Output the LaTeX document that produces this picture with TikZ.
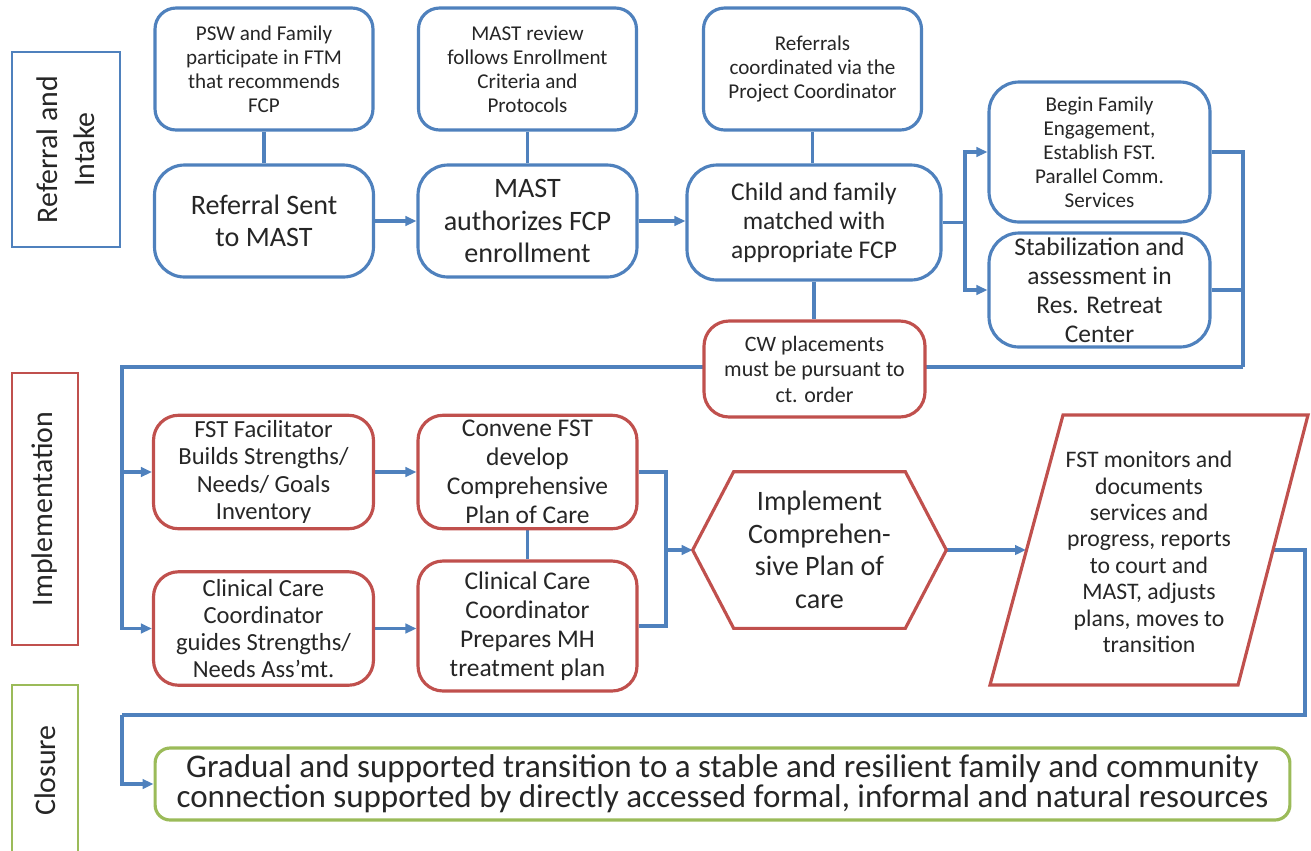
\documentclass[tikz,border=0pt]{standalone}
\usepackage{fontspec}
\setmainfont{Carlito}
\usetikzlibrary{arrows.meta}
\usetikzlibrary{positioning}
\usetikzlibrary{backgrounds}

\definecolor{boxblue}{RGB}{79,129,189}
\definecolor{boxred}{RGB}{192,80,77}
\definecolor{boxgreen}{RGB}{155,187,89}
\definecolor{txt}{RGB}{38,38,38}

\begin{document}
\begin{tikzpicture}[x=0.02cm, y=-0.02cm,
  box/.style={draw, line width=1.8pt, fill=white, align=center, text=txt, inner sep=0pt},
  bluebox/.style={box, draw=boxblue},
  redbox/.style={box, draw=boxred},
  notebox/.style={bluebox, rounded corners=0.42cm, minimum width=4.36cm, minimum height=2.44cm,
    font=\fontsize{12}{13.6}\selectfont},
  bigbox/.style={bluebox, rounded corners=0.6cm, minimum width=4.38cm, minimum height=2.24cm,
    font=\fontsize{16}{18.5}\selectfont},
  stagebox/.style={redbox, rounded corners=0.5cm, minimum width=4.4cm, minimum height=2.27cm,
    font=\fontsize{14}{15.5}\selectfont},
  phase/.style={box, rotate=90, line width=1.5pt, font=\fontsize{17}{21}\selectfont},
  link/.style={draw=boxblue, line width=2pt},
  arrow/.style={link, -{Triangle[length=0.22cm,width=0.19cm]}}]
  \useasboundingbox (0,0) rectangle (1311,850);

  % phase labels
  \node[phase, draw=boxblue, minimum width=3.9cm, minimum height=2.16cm] (intake) at (66,149.5) {Referral and\\Intake};
  \node[phase, draw=boxred, minimum width=5.44cm, minimum height=1.32cm] (impl) at (45,509) {Implementation};
  \node[phase, draw=boxgreen, minimum width=3.42cm, minimum height=1.32cm] (close) at (45,770.5) {Closure};

  % referral and intake
  \node[notebox] (psw) at (264,69) {PSW and Family\\participate in FTM\\that recommends\\FCP};
  \node[notebox] (review) at (527.5,69) {MAST review\\follows Enrollment\\Criteria and\\Protocols};
  \node[notebox] (coord) at (812.5,69) {Referrals\\coordinated via the\\Project Coordinator};
  \node[bigbox] (sent) at (264,221) {Referral Sent\\to MAST};
  \node[bigbox] (auth) at (527.5,221) {MAST\\authorizes FCP\\enrollment};
  \node[bigbox, minimum width=5.08cm, minimum height=2.3cm, font=\fontsize{14.5}{16.5}\selectfont]
    (match) at (814,222.5) {Child and family\\matched with\\appropriate FCP};
  \node[notebox, rounded corners=0.6cm, minimum width=4.42cm, minimum height=2.8cm]
    (engage) at (1099.5,152) {Begin Family\\Engagement,\\Establish FST.\\Parallel Comm.\\Services};
  \node[bigbox, minimum width=4.42cm, minimum height=2.28cm, font=\fontsize{14.5}{16.5}\selectfont]
    (stab) at (1099.5,290) {Stabilization and\\assessment in\\Res. Retreat\\Center};
  \node[redbox, rounded corners=0.5cm, minimum width=4.42cm, minimum height=1.92cm,
    font=\fontsize{12.5}{14.5}\selectfont] (cw) at (814.5,369) {CW placements\\must be pursuant to\\ct. order};

  % implementation
  \node[stagebox] (fac) at (263.5,472) {FST Facilitator\\Builds Strengths/\\Needs/ Goals\\Inventory};
  \node[stagebox] (guide) at (263.5,628.5) {Clinical Care\\Coordinator\\guides Strengths/\\Needs Ass’mt.};
  \node[stagebox, minimum width=4.38cm, font=\fontsize{14.5}{16.5}\selectfont]
    (convene) at (527.5,472) {Convene FST\\develop\\Comprehensive\\Plan of Care};
  \node[stagebox, minimum width=4.38cm, minimum height=2.6cm, font=\fontsize{14.5}{16.5}\selectfont]
    (prep) at (527.5,626) {Clinical Care\\Coordinator\\Prepares MH\\treatment plan};
  \node[align=center, text=txt, minimum width=5.06cm, minimum height=3.12cm, inner sep=0pt,
    font=\fontsize{16}{18.5}\selectfont] (impl plan) at (819.5,550) {Implement\\Comprehen-\\sive Plan of\\care};
  \draw[boxred, line width=1.8pt] (impl plan.west) -- ([xshift=0.82cm]impl plan.north west)
    -- ([xshift=-0.82cm]impl plan.north east) -- (impl plan.east)
    -- ([xshift=-0.82cm]impl plan.south east) -- ([xshift=0.82cm]impl plan.south west) -- cycle;
  \draw[boxred, line width=1.8pt, fill=white] (1063,415) -- (1308,415) -- (1238,685) -- (990,685) -- cycle;
  \node[align=center, text=txt, font=\fontsize{13.5}{15}\selectfont] (monitor) at (1149,552)
    {FST monitors and\\documents\\services and\\progress, reports\\to court and\\MAST, adjusts\\plans, moves to\\transition};
  \coordinate (monitor in) at (1026,550);
  \coordinate (monitor out) at (1273,550);

  % closure
  \node[box, draw=boxgreen, rounded corners=0.3cm, minimum width=22.7cm, minimum height=1.44cm,
    font=\fontsize{18.8}{17}\selectfont] (transition) at (722.5,784)
    {Gradual and supported transition to a stable and resilient family and community\\connection supported by directly accessed formal, informal and natural resources};

  % connectors
  \coordinate (fork) at (965,222.5);
  \coordinate (bus right) at (1243,367);
  \coordinate (bus left) at (122,367);
  \coordinate (join) at (666,550);
  \coordinate (loop right) at (1305,715);
  \coordinate (loop left) at (122,715);
  \begin{scope}[on background layer]
    \draw[link] (psw) -- (sent);
    \draw[link] (review) -- (auth);
    \draw[link] (coord.south) -- (coord.south |- match.north);
    \draw[arrow] (sent) -- (auth);
    \draw[arrow] (auth.east) -- (auth.east -| match.west);
    \draw[link] (match.east) -- (fork);
    \draw[arrow] (fork) |- (engage.west);
    \draw[arrow] (fork) |- (stab.west);
    \draw[link] (match.south) -- (match.south |- cw.north);
    \draw[link] (engage.east) -| (bus right);
    \draw[link] (stab.east) -- (stab.east -| bus right);
    \draw[arrow] (bus right) -- (bus left) |- (fac.west);
    \draw[arrow] (bus left) |- (guide.west);
    \draw[arrow] (fac) -- (convene);
    \draw[arrow] (guide.east) -- (guide.east -| prep.west);
    \draw[link] (convene) -- (prep);
    \draw[link] (convene.east) -| (join);
    \draw[link] (prep.east) -| (join);
    \draw[arrow] (join) -- (impl plan.west);
    \draw[arrow] (impl plan.east) -- (monitor in);
    \draw[link] (monitor out) -| (loop right) -- (loop left);
    \draw[arrow] (loop left) |- (transition.west);
  \end{scope}
\end{tikzpicture}
\end{document}
